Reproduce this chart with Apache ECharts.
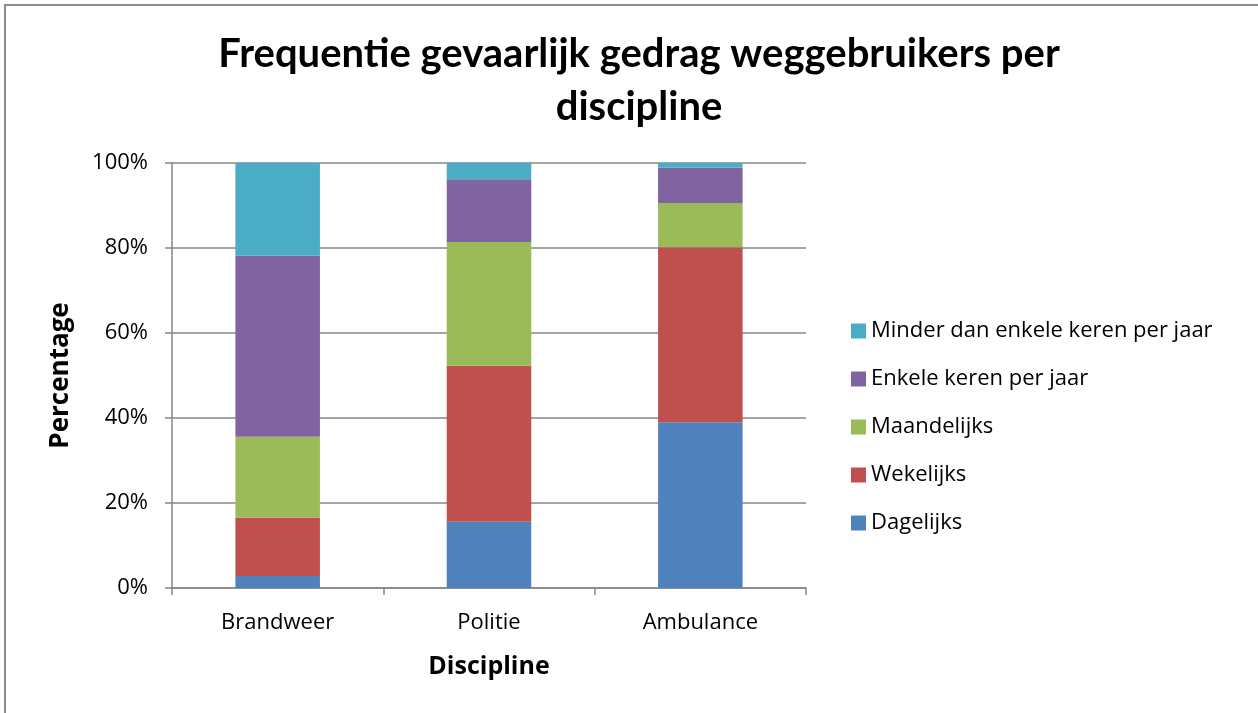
<!DOCTYPE html>
<html>
<head>
<meta charset="utf-8">
<script src="https://cdn.jsdelivr.net/npm/echarts@6/dist/echarts.min.js"></script>
<style>
  html, body { margin: 0; padding: 0; background: #fff; }
  #frame {
    position: absolute; left: 4px; top: 4px; width: 1260px; height: 720px;
    border: 2px solid #8c8c8c; box-sizing: border-box;
  }
  #chart { position: absolute; left: 0; top: 0; width: 1258px; height: 713px; }
</style>
</head>
<body>
<div id="frame"></div>
<div id="chart"></div>
<script>
// categories (x axis)
const disciplines = ['Brandweer', 'Politie', 'Ambulance'];

// percentages per category
const dagelijks   = [2.8, 15.6, 39.0];
const wekelijks   = [13.8, 36.7, 41.2];
const maandelijks = [19.0, 29.1, 10.4];
const enkele      = [42.6, 14.8, 8.3];
const minder      = [21.8, 3.8, 1.1];

const seriesNames = ['Dagelijks', 'Wekelijks', 'Maandelijks', 'Enkele keren per jaar', 'Minder dan enkele keren per jaar'];
const seriesData = [dagelijks, wekelijks, maandelijks, enkele, minder];
const colors = ['#4F81BD', '#C0504D', '#9BBB59', '#8064A2', '#4BACC6'];

const font = '"Open Sans", sans-serif';
const titleFont = 'Lato, "Open Sans", sans-serif';

const chart = echarts.init(document.getElementById('chart'));

chart.setOption({
  animation: false,
  textStyle: { fontFamily: font },
  title: {
    text: 'Frequentie gevaarlijk gedrag weggebruikers per\ndiscipline',
    left: 634,
    top: 23,
    textAlign: 'center',
    textStyle: { fontSize: 40, fontWeight: 'bold', color: '#000', lineHeight: 53, fontFamily: titleFont }
  },
  legend: {
    orient: 'vertical',
    left: 851,
    top: 317,
    padding: 0,
    itemGap: 20,
    itemWidth: 15,
    itemHeight: 15,
    icon: 'rect',
    data: seriesNames.slice().reverse(),
    textStyle: { fontSize: 22, color: '#000', fontFamily: font, padding: [0, 0, 0, 0], lineHeight: 28 }
  },
  grid: { left: 172, right: 452, top: 163, bottom: 125 },
  xAxis: {
    type: 'category',
    data: disciplines,
    name: 'Discipline',
    nameLocation: 'middle',
    nameGap: 66,
    nameTextStyle: { fontSize: 25, fontWeight: 'bold', color: '#000' },
    axisLine: { lineStyle: { color: '#868686', width: 1.5 } },
    axisTick: { show: true, length: 7, lineStyle: { color: '#868686', width: 1.5 } },
    axisLabel: { fontSize: 22, color: '#000', margin: 24 }
  },
  yAxis: {
    type: 'value',
    min: 0,
    max: 100,
    interval: 20,
    name: 'Percentage',
    nameLocation: 'middle',
    nameGap: 98,
    nameRotate: 90,
    nameTextStyle: { fontSize: 26, fontWeight: 'bold', color: '#000' },
    axisLine: { show: true, lineStyle: { color: '#868686', width: 1.5 } },
    axisTick: { show: true, length: 7, lineStyle: { color: '#868686', width: 1.5 } },
    splitLine: { lineStyle: { color: '#868686', width: 1.5 } },
    axisLabel: { fontSize: 22, color: '#000', margin: 24, formatter: '{value}%' }
  },
  series: seriesData.map((d, i) => ({
    name: seriesNames[i],
    type: 'bar',
    stack: 'total',
    barWidth: '40%',
    data: d,
    itemStyle: { color: colors[i] }
  }))
});
</script>
</body>
</html>
